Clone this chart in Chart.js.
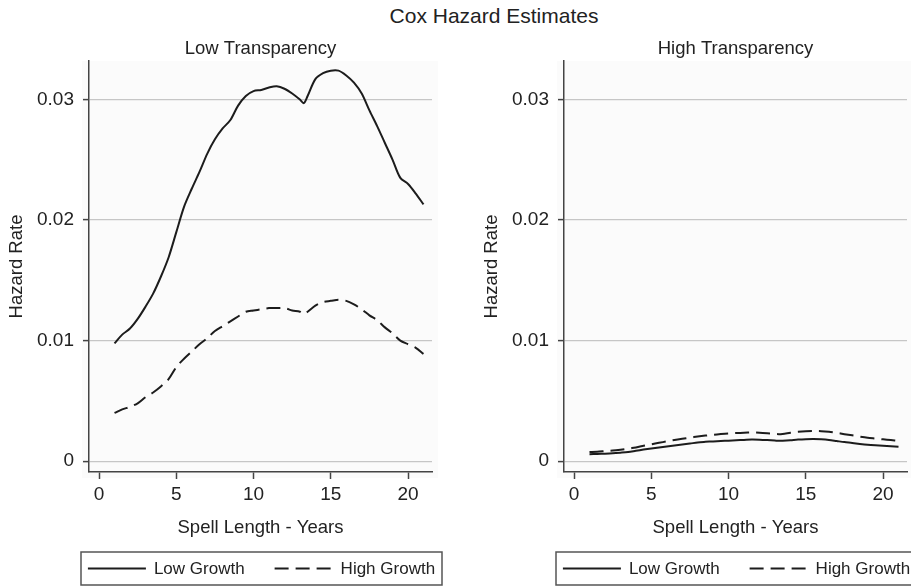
<!DOCTYPE html>
<html>
<head>
<meta charset="utf-8">
<script src="https://cdn.jsdelivr.net/npm/chart.js@4.4.1/dist/chart.umd.min.js"></script>
<style>
  html, body { margin: 0; padding: 0; background: #fff; overflow: hidden; }
  body { width: 911px; height: 587px; position: relative; }
  #mainTitle {
    position: absolute; left: 0; top: 4px; width: 988px; text-align: center;
    font: 21px "Liberation Sans", Arial, sans-serif; line-height: 24px; color: #222;
  }
  .panel { position: absolute; top: 0; width: 460px; height: 587px; }
</style>
</head>
<body>
<div id="mainTitle">Cox Hazard Estimates</div>
<div class="panel" style="left:0"><canvas id="lowChart" width="460" height="587"></canvas></div>
<div class="panel" style="left:475px"><canvas id="highChart" width="460" height="587"></canvas></div>
<script>
// spell length (years) at which the estimates were read
const years = [1, 1.5, 2, 2.5, 3, 3.5, 4, 4.5, 5, 5.5, 6, 6.5, 7, 7.5, 8, 8.5, 9, 9.5, 10, 10.5,
  11, 11.5, 12, 12.5, 13, 13.25, 13.5, 14, 14.5, 15, 15.5, 16, 16.5, 17, 17.5, 18, 18.5, 19, 19.5, 20, 20.5, 21];

// Low transparency
const lowTranspLowGrowth = [0.00977, 0.0105, 0.0110, 0.0118, 0.0128, 0.0139, 0.0153, 0.0169, 0.0190, 0.0211,
  0.0226, 0.0240, 0.0255, 0.0267, 0.0276, 0.0283, 0.0295, 0.0303, 0.0307, 0.0308,
  0.0310, 0.0311, 0.0309, 0.0305, 0.0300, 0.0297, 0.0303, 0.0317, 0.0322, 0.0324, 0.0324, 0.0320, 0.0314,
  0.0305, 0.0291, 0.0278, 0.0264, 0.0250, 0.0235, 0.0230, 0.0222, 0.0213];
const lowTranspHighGrowth = [0.0040, 0.0043, 0.0045, 0.0048, 0.0053, 0.0057, 0.0062, 0.0068, 0.0078, 0.0085,
  0.0091, 0.0097, 0.0102, 0.0108, 0.0112, 0.0116, 0.0120, 0.0124, 0.0125, 0.0126,
  0.0127, 0.0127, 0.0127, 0.0125, 0.0124, 0.0122, 0.0124, 0.0129, 0.0132, 0.0133, 0.0134, 0.0133, 0.0130,
  0.0126, 0.0121, 0.0117, 0.0111, 0.0106, 0.0100, 0.0097, 0.0094, 0.0089];

// High transparency
const highTranspLowGrowth = [0.00058, 0.00060, 0.00062, 0.00065, 0.00070, 0.00076, 0.00086, 0.00096, 0.00105, 0.00113,
  0.00121, 0.00130, 0.00138, 0.00146, 0.00155, 0.00160, 0.00164, 0.00167, 0.00170, 0.00173,
  0.00176, 0.00179, 0.00178, 0.00175, 0.00171, 0.00169, 0.00170, 0.00174, 0.00179, 0.00182, 0.00183, 0.00181, 0.00176,
  0.00167, 0.00158, 0.00151, 0.00143, 0.00136, 0.00131, 0.00127, 0.00123, 0.00119];
const highTranspHighGrowth = [0.00075, 0.00078, 0.00083, 0.00088, 0.00095, 0.00103, 0.00114, 0.00127, 0.00140, 0.00152,
  0.00164, 0.00176, 0.00186, 0.00195, 0.00204, 0.00212, 0.00219, 0.00225, 0.00230, 0.00233,
  0.00236, 0.00238, 0.00236, 0.00232, 0.00227, 0.00224, 0.00226, 0.00235, 0.00243, 0.00248, 0.00250, 0.00249, 0.00244,
  0.00235, 0.00224, 0.00214, 0.00204, 0.00195, 0.00188, 0.00181, 0.00175, 0.00169];

const seriesLabels = ['Low Growth', 'High Growth'];
const xTicks = [0, 5, 10, 15, 20];
const yTicks = [0, 0.01, 0.02, 0.03];

const FONT = '"Liberation Sans", Arial, sans-serif';
const TEXT = '#222';
const INK = '#1c1c1c';
const AXIS = '#444';

// faint panel background behind the plot
const plotBg = {
  id: 'plotBg',
  beforeDraw(chart) {
    const {ctx, chartArea: a} = chart;
    ctx.save();
    ctx.fillStyle = '#fbfbfb';
    ctx.fillRect(a.left - 7, a.top, a.right - a.left + 13, a.bottom - a.top + 6);
    ctx.restore();
  }
};

// legend in a frame under the axis title
const framedLegend = {
  id: 'framedLegend',
  afterDraw(chart) {
    const {ctx, chartArea: a} = chart;
    const sample = 58, gap = 8, itemGap = 30;
    const left = a.left - 8, top = a.bottom + 80, w = a.right - a.left + 18, h = 33;
    ctx.save();
    ctx.font = '17px ' + FONT;
    const items = chart.data.datasets.map(ds => ({ds, tw: ctx.measureText(ds.label).width}));
    const total = items.reduce((s, it) => s + sample + gap + it.tw, 0) + itemGap * (items.length - 1);
    let x = left + (w - total) / 2;
    const cy = top + h / 2;
    ctx.strokeStyle = '#555';
    ctx.lineWidth = 1.5;
    ctx.strokeRect(left, top, w, h);
    items.forEach(it => {
      ctx.beginPath();
      ctx.setLineDash(it.ds.borderDash || []);
      ctx.strokeStyle = it.ds.borderColor;
      ctx.lineWidth = it.ds.borderWidth;
      ctx.moveTo(x, cy);
      ctx.lineTo(x + sample, cy);
      ctx.stroke();
      ctx.setLineDash([]);
      ctx.fillStyle = TEXT;
      ctx.textBaseline = 'middle';
      ctx.fillText(it.ds.label, x + sample + gap, cy + 1);
      x += sample + gap + it.tw + itemGap;
    });
    ctx.restore();
  }
};

function makePanel(id, title, lowVals, highVals) {
  new Chart(document.getElementById(id), {
    type: 'line',
    data: {
      labels: years,
      datasets: [
        {label: seriesLabels[0], data: lowVals, borderColor: INK, borderWidth: 2, pointRadius: 0, tension: 0.3},
        {label: seriesLabels[1], data: highVals, borderColor: INK, borderWidth: 2, pointRadius: 0, tension: 0.3, borderDash: [14, 7]}
      ]
    },
    options: {
      responsive: false,
      animation: false,
      layout: {padding: {top: 37.9, left: 0, right: 28, bottom: 43.9}},
      plugins: {
        legend: {display: false},
        tooltip: {enabled: false},
        title: {
          display: true, text: title, fullSize: false, color: TEXT,
          font: {family: FONT, size: 18.5, weight: 'normal'},
          padding: {top: 0, bottom: 0.9}
        }
      },
      scales: {
        x: {
          type: 'linear', min: -0.65, max: 21.55,
          afterBuildTicks: s => { s.ticks = xTicks.map(v => ({value: v})); },
          afterFit: s => { s.height = 71.1; },
          grid: {drawOnChartArea: false, tickLength: 7, tickColor: AXIS, tickWidth: 1.5},
          border: {color: AXIS, width: 1.5},
          ticks: {color: TEXT, padding: 4.6, font: {family: FONT, size: 19}, maxRotation: 0},
          title: {display: true, text: 'Spell Length - Years', color: TEXT, font: {family: FONT, size: 18.5}, padding: {top: 0, bottom: 4}}
        },
        y: {
          min: -0.0009, max: 0.0332,
          afterBuildTicks: s => { s.ticks = yTicks.map(v => ({value: v})); },
          afterFit: s => { s.width = 89; },
          grid: {color: '#c6c6c6', lineWidth: 1.2, tickLength: 6, tickColor: AXIS, tickWidth: 1.5},
          border: {color: AXIS, width: 1.5},
          ticks: {color: TEXT, padding: 9, font: {family: FONT, size: 19}, callback: v => String(+v.toFixed(2))},
          title: {display: true, text: 'Hazard Rate', color: TEXT, font: {family: FONT, size: 18.5}, padding: {top: 5.9, bottom: 0}}
        }
      }
    },
    plugins: [plotBg, framedLegend]
  });
}

makePanel('lowChart', 'Low Transparency', lowTranspLowGrowth, lowTranspHighGrowth);
makePanel('highChart', 'High Transparency', highTranspLowGrowth, highTranspHighGrowth);
</script>
</body>
</html>
